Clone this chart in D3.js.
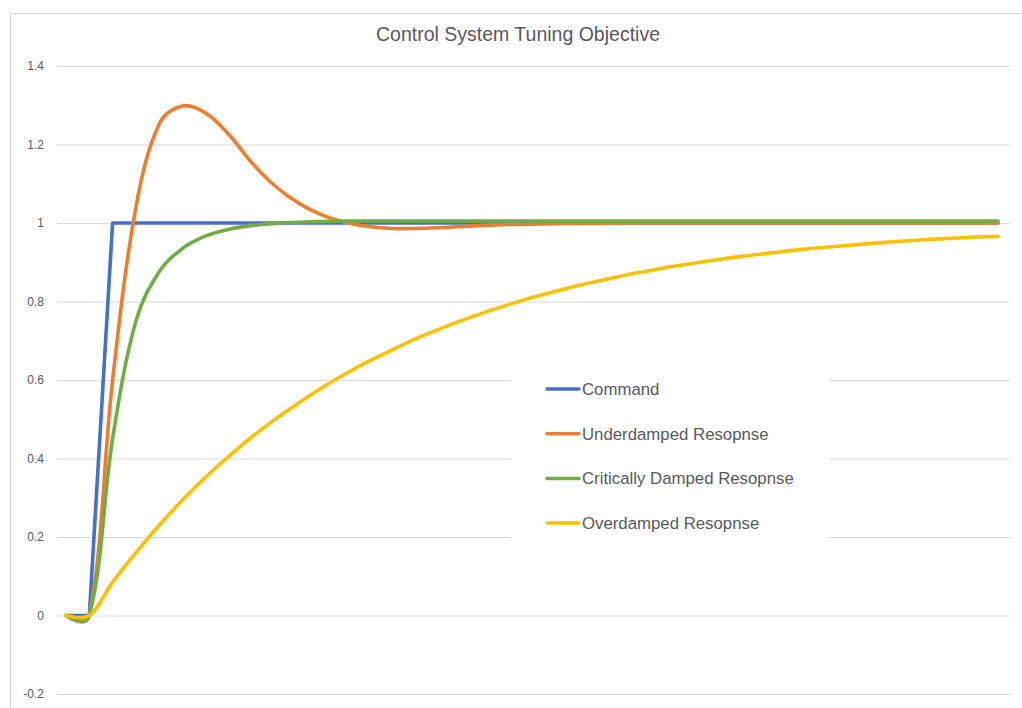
<!DOCTYPE html>
<html>
<head>
<meta charset="utf-8">
<script src="https://cdn.jsdelivr.net/npm/d3@7"></script>
<style>
  html, body { margin: 0; padding: 0; background: #fff; }
  svg { display: block; }
</style>
</head>
<body>
<svg id="chart" width="1022" height="708"></svg>
<script>
// Time steps (category axis, unlabeled)
const steps = d3.range(41);

const command = [0, 0, 1, 1, 1, 1, 1, 1, 1, 1,
  1, 1, 1, 1, 1, 1, 1, 1, 1, 1,
  1, 1, 1, 1, 1, 1, 1, 1, 1, 1,
  1, 1, 1, 1, 1, 1, 1, 1, 1, 1, 1];

const underdamped = [0, 0, 0.6, 1.04, 1.252, 1.298, 1.28, 1.225, 1.152, 1.093,
  1.05, 1.02, 1.001, 0.991, 0.986, 0.986, 0.988, 0.991, 0.994, 0.996,
  0.997, 0.998, 0.999, 0.999, 1, 1, 1, 1, 1, 1,
  1, 1, 1, 1, 1, 1, 1, 1, 1, 1, 1];

const critical = [0, 0, 0.45, 0.75, 0.876, 0.935, 0.967, 0.984, 0.994, 0.999,
  1.002, 1.004, 1.005, 1.005, 1.005, 1.005, 1.005, 1.005, 1.005, 1.005,
  1.005, 1.005, 1.005, 1.005, 1.005, 1.005, 1.005, 1.005, 1.005, 1.005,
  1.005, 1.005, 1.005, 1.005, 1.005, 1.005, 1.005, 1.005, 1.005, 1.005, 1.005];

const overdamped = [0, 0, 0.085, 0.16, 0.23, 0.294, 0.353, 0.406, 0.456, 0.501,
  0.542, 0.581, 0.616, 0.648, 0.677, 0.705, 0.729, 0.752, 0.773, 0.792,
  0.81, 0.826, 0.841, 0.854, 0.867, 0.878, 0.889, 0.898, 0.907, 0.915,
  0.922, 0.929, 0.935, 0.94, 0.945, 0.95, 0.954, 0.958, 0.961, 0.964, 0.966];

const seriesNames = ["Command", "Underdamped Resopnse", "Critically Damped Resopnse", "Overdamped Resopnse"];
const seriesValues = [command, underdamped, critical, overdamped];
const seriesColors = ["#4472C4", "#ED7D31", "#70AD47", "#FFC000"];
const seriesSmooth = [false, true, true, true];

const yTicks = [-0.2, 0, 0.2, 0.4, 0.6, 0.8, 1, 1.2, 1.4];

// Spreadsheet-style smoothing: cubic Bezier segments whose control arms follow
// the neighbour chord, split partly evenly and partly by adjacent segment lengths.
function curveSpreadsheetSmooth(context) {
  let pts = [];
  const f = 0.36, blend = 0.2;
  return {
    areaStart() {}, areaEnd() {},
    lineStart() { pts = []; },
    point(x, y) { pts.push([+x, +y]); },
    lineEnd() {
      const n = pts.length;
      if (!n) return;
      context.moveTo(pts[0][0], pts[0][1]);
      if (n === 1) return;
      const cin = [], cout = [];
      for (let i = 0; i < n; i++) {
        if (i === 0 || i === n - 1) { cin[i] = pts[i]; cout[i] = pts[i]; continue; }
        const p = pts[i], a = pts[i - 1], b = pts[i + 1];
        const d1 = Math.hypot(p[0] - a[0], p[1] - a[1]);
        const d2 = Math.hypot(b[0] - p[0], b[1] - p[1]);
        const s = d1 + d2 || 1;
        const w1 = blend * 0.5 + (1 - blend) * d1 / s;
        const w2 = blend * 0.5 + (1 - blend) * d2 / s;
        const tx = b[0] - a[0], ty = b[1] - a[1];
        cin[i] = [p[0] - tx * f * w1, p[1] - ty * f * w1];
        cout[i] = [p[0] + tx * f * w2, p[1] + ty * f * w2];
      }
      for (let i = 1; i < n; i++) {
        context.bezierCurveTo(cout[i - 1][0], cout[i - 1][1], cin[i][0], cin[i][1], pts[i][0], pts[i][1]);
      }
    }
  };
}

const svg = d3.select("#chart");
const plot = { left: 57, right: 1010, top: 66, bottom: 694 };
const font = "'Liberation Sans', Arial, sans-serif";

// Chart area frame
svg.append("rect")
  .attr("x", 10.5).attr("y", 13.5)
  .attr("width", 1100).attr("height", 800)
  .attr("fill", "#fff").attr("stroke", "#d9d9d9").attr("stroke-width", 1);

const x = d3.scaleLinear().domain([0, steps.length - 1]).range([66, 998]);
const y = d3.scaleLinear().domain([-0.2, 1.4]).range([plot.bottom, plot.top]);

// Horizontal gridlines and value labels
const yAxis = d3.axisLeft(y)
  .tickValues(yTicks)
  .tickSize(-(plot.right - plot.left))
  .tickPadding(13)
  .tickFormat(d => String(Math.round(d * 10) / 10));

const gy = svg.append("g")
  .attr("transform", `translate(${plot.left},0)`)
  .call(yAxis);
gy.select(".domain").remove();
gy.selectAll(".tick line").attr("stroke", "#d9d9d9").attr("stroke-width", 1);
gy.selectAll(".tick text")
  .attr("fill", "#595959")
  .attr("font-family", font)
  .attr("font-size", 12);

// Title
svg.append("text")
  .attr("x", 518).attr("y", 41)
  .attr("text-anchor", "middle")
  .attr("fill", "#595959")
  .attr("font-family", font)
  .attr("font-size", 19.5)
  .text("Control System Tuning Objective");

// Legend (white box hides gridlines beneath it)
const legend = svg.append("g");
legend.append("rect")
  .attr("x", 511).attr("y", 366)
  .attr("width", 318).attr("height", 180)
  .attr("fill", "#fff");

seriesNames.forEach((name, i) => {
  const ly = 389 + i * 44.7;
  legend.append("line")
    .attr("x1", 547).attr("x2", 579)
    .attr("y1", ly).attr("y2", ly)
    .attr("stroke", seriesColors[i]).attr("stroke-width", 3.5)
    .attr("stroke-linecap", "round");
  legend.append("text")
    .attr("x", 582).attr("y", ly)
    .attr("dy", "0.35em")
    .attr("fill", "#595959")
    .attr("font-family", font)
    .attr("font-size", 16.8)
    .text(name);
});

// Series lines
seriesValues.forEach((vals, i) => {
  const line = d3.line()
    .x((d, j) => x(steps[j]))
    .y(d => y(d))
    .curve(seriesSmooth[i] ? curveSpreadsheetSmooth : d3.curveLinear);
  svg.append("path")
    .datum(vals)
    .attr("d", line)
    .attr("fill", "none")
    .attr("stroke", seriesColors[i])
    .attr("stroke-width", 3.6)
    .attr("stroke-linejoin", "round")
    .attr("stroke-linecap", "round");
});
</script>
</body>
</html>
